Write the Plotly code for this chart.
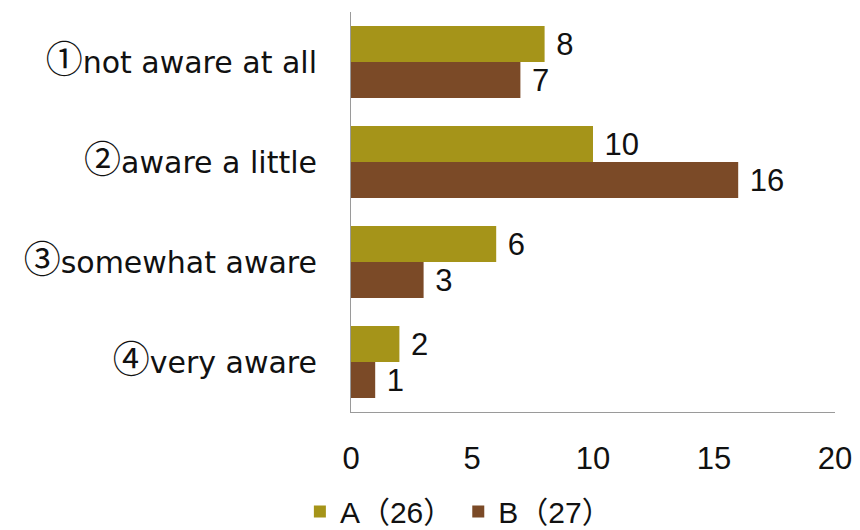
import plotly.graph_objects as go

categories = ["①not aware at all", "②aware a little", "③somewhat aware", "④very aware"]
series_a = [8, 10, 6, 2]
series_b = [7, 16, 3, 1]
name_a = "A（26）"
name_b = "B（27）"
x_ticks = [0, 5, 10, 15, 20]

LABEL_FONT = "DejaVu Sans, Noto Sans CJK JP"
CJK_FONT = "Noto Sans CJK JP"
NUM_FONT = "Liberation Sans, Noto Sans CJK JP"
COLOR_A = "#a59419"
COLOR_B = "#7b4a27"


def styled_label(label):
    # circled digit drawn in the CJK face so it keeps its full width
    return (f'<span style="font-family:{CJK_FONT};font-size:37px">{label[0]}</span>'
            f'{label[1:]}')


fig = go.Figure()
for vals, name, color in [(series_a, name_a, COLOR_A), (series_b, name_b, COLOR_B)]:
    fig.add_trace(go.Bar(
        y=categories, x=vals, orientation="h", name=name,
        marker=dict(color=color, line=dict(width=0)),
        text=vals, texttemplate=" %{x}", textposition="outside",
        textfont=dict(size=31, color="#111111", family=NUM_FONT), cliponaxis=False,
    ))

fig.update_layout(
    width=860, height=530,
    margin=dict(l=351, r=25, t=12, b=118, autoexpand=False),
    paper_bgcolor="white", plot_bgcolor="white",
    barmode="group", bargap=0.28, bargroupgap=0,
    font=dict(family=NUM_FONT, size=30, color="#111111"),
    showlegend=True,
    legend=dict(
        orientation="h", xref="container", yref="container",
        x=0.533, xanchor="center", y=0.035, yanchor="middle",
        font=dict(size=30, family=NUM_FONT), itemwidth=30,
        traceorder="normal",
    ),
    xaxis=dict(
        range=[0, 20], tickvals=x_ticks, showgrid=False, zeroline=False,
        showline=True, linecolor="#9a9a9a", linewidth=1, automargin=False,
        ticks="", tickfont=dict(size=31, family=NUM_FONT), ticklabelstandoff=19,
    ),
    yaxis=dict(
        autorange="reversed", showgrid=False, zeroline=False,
        showline=True, linecolor="#9a9a9a", linewidth=1, automargin=False,
        tickvals=categories, ticktext=[styled_label(c) for c in categories],
        ticks="", tickfont=dict(size=30, family=LABEL_FONT), ticklabelstandoff=27,
    ),
)

fig.write_html("out.html")
